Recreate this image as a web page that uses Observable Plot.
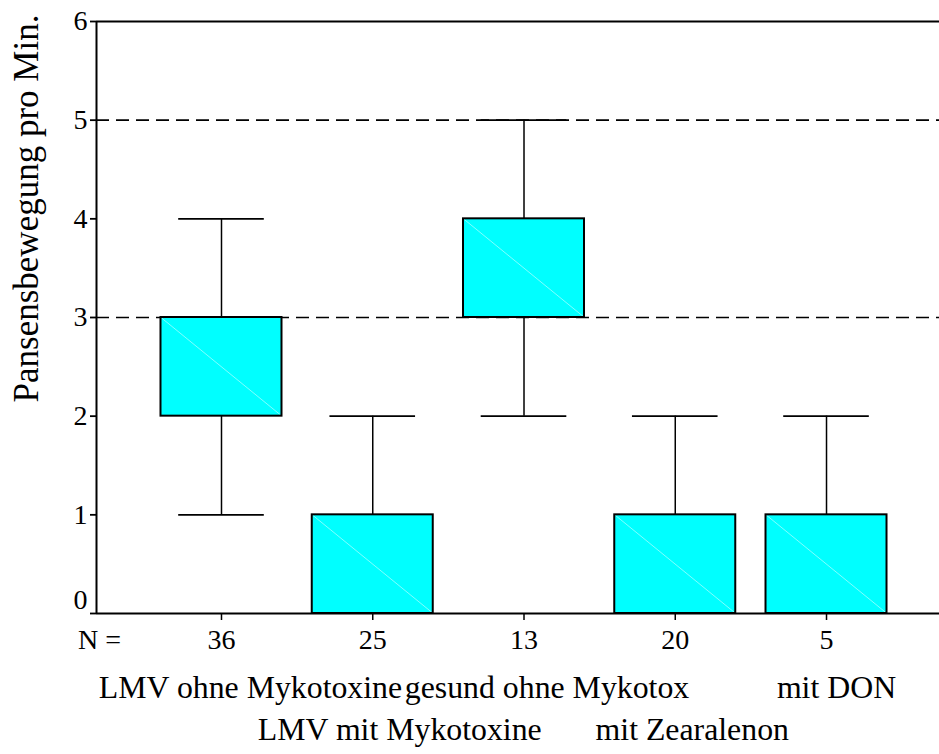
<!DOCTYPE html>
<html>
<head>
<meta charset="utf-8">
<script src="https://cdn.jsdelivr.net/npm/d3@7"></script>
<script src="https://cdn.jsdelivr.net/npm/@observablehq/plot@0.6"></script>
<style>
  html, body { margin: 0; padding: 0; background: #fff; }
  #chart svg { display: block; }
</style>
</head>
<body>
<div id="chart"></div>
<script>
// ---- data ----
const categories = ["LMV ohne Mykotoxine", "LMV mit Mykotoxine", "gesund ohne Mykotox", "mit Zearalenon", "mit DON"];
const nValues = [36, 25, 13, 20, 5];
const mins = [1, 0, 2, 0, 0];
const q1s  = [2, 0, 3, 0, 0];
const q3s  = [3, 1, 4, 1, 1];
const maxs = [4, 2, 5, 2, 2];
const refLines = [3, 5];
const yTicks = [0, 1, 2, 3, 4, 5, 6];
const yLabel = "Pansensbewegung pro Min.";
const nLabel = "N =";

// ---- layout / style ----
const FONT = "Liberation Serif";
const labelRow = [0, 1, 0, 1, 0];
const labelDx = [29, 27, 23, 17, 10];
const xDomain = [0.1736, 5.747];
const boxHalf = 0.4, capHalf = 0.283;

const rows = categories.map((label, k) => ({
  i: k + 1, label, n: nValues[k], min: mins[k], q1: q1s[k], q3: q3s[k], max: maxs[k]
}));

const labelMarks = rows.map((d, k) =>
  Plot.text([d], {
    x: "i", text: "label", frameAnchor: "bottom",
    dx: labelDx[k], dy: labelRow[k] ? 116 : 74,
    fontSize: 31.8, fontFamily: FONT, lineAnchor: "middle", textAnchor: "middle", fill: "black"
  })
);

const chart = Plot.plot({
  width: 939,
  height: 754,
  marginLeft: 96,
  marginRight: 0,
  marginTop: 21,
  marginBottom: 141,
  style: { fontFamily: FONT, fontSize: "28px", background: "white", color: "black" },
  x: { type: "linear", domain: xDomain, axis: null },
  y: { domain: [0, 6], axis: null },
  marks: [
    // reference dashed lines
    Plot.ruleY(refLines, { stroke: "black", strokeWidth: 1.6, strokeDasharray: "13,7" }),
    // whiskers
    Plot.ruleX(rows, { x: "i", y1: "q3", y2: "max", stroke: "black", strokeWidth: 1.5 }),
    Plot.ruleX(rows.filter(d => d.min < d.q1), { x: "i", y1: "min", y2: "q1", stroke: "black", strokeWidth: 1.5 }),
    Plot.ruleY(rows, { y: "max", x1: d => d.i - capHalf, x2: d => d.i + capHalf, stroke: "black", strokeWidth: 1.6 }),
    Plot.ruleY(rows.filter(d => d.min < d.q1), { y: "min", x1: d => d.i - capHalf, x2: d => d.i + capHalf, stroke: "black", strokeWidth: 1.6 }),
    // boxes
    Plot.rect(rows, { x1: d => d.i - boxHalf, x2: d => d.i + boxHalf, y1: "q1", y2: "q3", fill: "#00ffff", stroke: "none" }),
    Plot.link(rows, { x1: d => d.i - boxHalf, y1: "q3", x2: d => d.i + boxHalf, y2: "q1", stroke: "#b8ffff", strokeWidth: 0.7 }),
    Plot.rect(rows, { x1: d => d.i - boxHalf, x2: d => d.i + boxHalf, y1: "q1", y2: "q3", fill: "none", stroke: "black", strokeWidth: 2 }),
    // axes frame lines
    Plot.ruleY([0], { stroke: "black", strokeWidth: 2 }),
    Plot.ruleY([6], { stroke: "black", strokeWidth: 2 }),
    Plot.ruleX([xDomain[0]], { stroke: "black", strokeWidth: 2 }),
    // y axis
    Plot.axisY({ ticks: yTicks, tickFormat: d => (d === 0 ? "" : String(d)), tickSize: 6, tickPadding: 3, fontSize: 28, fontFamily: FONT, strokeWidth: 1.8, label: null, stroke: "black", fill: "black" }),
    Plot.axisY({ ticks: [0], tickFormat: d => String(d), tickSize: 0, tickPadding: 9, dy: -13, fontSize: 28, fontFamily: FONT, label: null, fill: "black" }),
    // x axis (N values)
    Plot.axisX({ ticks: rows.map(d => d.i), tickFormat: (d) => String(nValues[d - 1]), tickSize: 7, tickPadding: 9, fontSize: 28, fontFamily: FONT, strokeWidth: 1.5, label: null, stroke: "black", fill: "black" }),
    Plot.text([nLabel], { text: d => d, frameAnchor: "bottom-left", dx: 3, dy: 27, fontSize: 28, fontFamily: FONT, textAnchor: "middle", lineAnchor: "middle", fill: "black" }),
    // y label
    Plot.text([yLabel], { text: d => d, frameAnchor: "left", rotate: -90, dx: -70, dy: -109, fontSize: 35, fontFamily: FONT, textAnchor: "middle", lineAnchor: "middle", fill: "black" }),
    ...labelMarks
  ]
});

document.getElementById("chart").appendChild(chart);
</script>
</body>
</html>
